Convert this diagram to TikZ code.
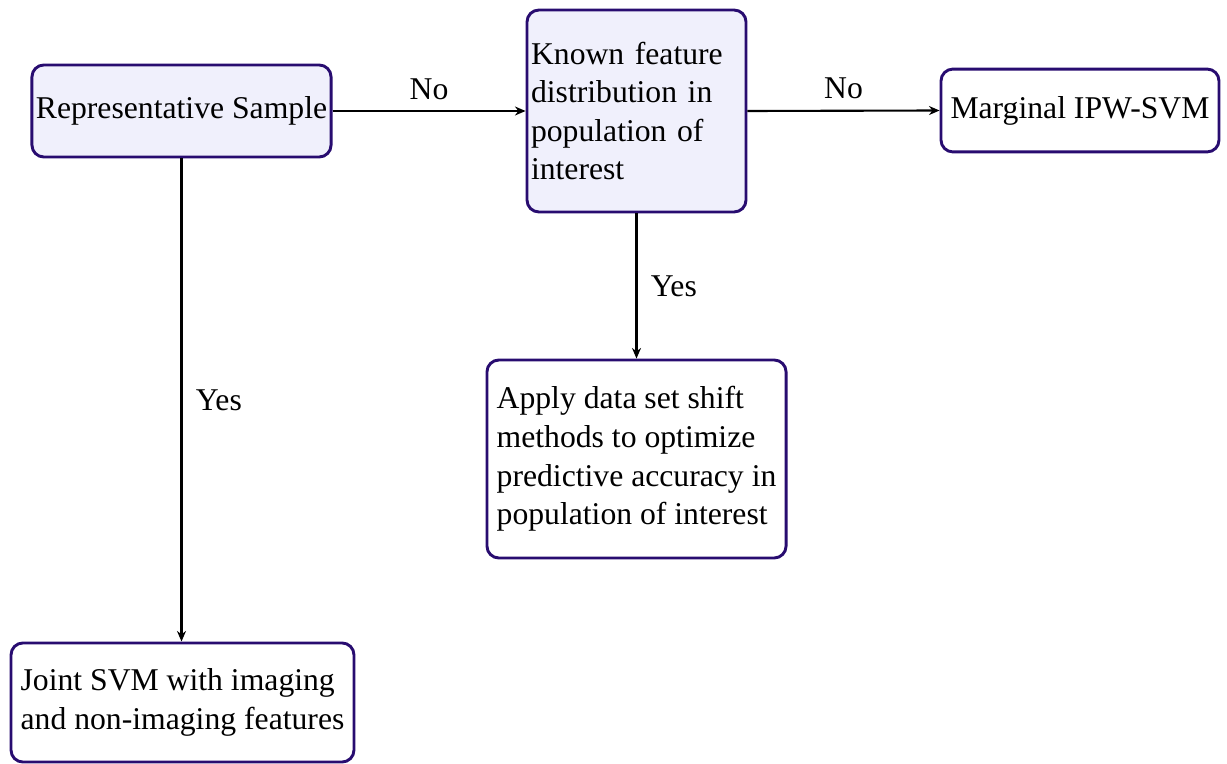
\documentclass[tikz,border=0pt]{standalone}
\usepackage{fontspec}
\setmainfont{Liberation Serif}
\usetikzlibrary{arrows.meta}

\definecolor{boxline}{RGB}{40,12,112}
\definecolor{boxfill}{RGB}{240,240,252}

\tikzset{
    flowbox/.style={draw=boxline, line width=1.1pt, rounded corners=4.5pt,
        inner sep=0pt, font=\fontsize{12}{14.6}\selectfont},
    askbox/.style={flowbox, fill=boxfill},
    endbox/.style={flowbox, fill=white},
    flowarrow/.style={draw=black, line width=0.8pt, -{Stealth[length=4pt,width=3.4pt]}},
    answer/.style={font=\fontsize{12}{14.6}\selectfont, inner sep=1pt}
}

\begin{document}
\begin{tikzpicture}[x=0.3788pt, y=-0.3788pt]
    \useasboundingbox (0,0) rectangle (1227,764);
    %% centres of the boxes, in pixels of the sketch
    \coordinate (Crep) at (181.5,111);
    \coordinate (Cknown) at (636.5,111);
    \coordinate (Cmarg) at (1080,110.5);
    \coordinate (Cshift) at (636.5,459);
    \coordinate (Cjoint) at (182.5,702.5);

    %% questions
    \node[askbox, minimum width=113.3pt, minimum height=34.85pt] (rep) at (Crep) {Representative Sample};
    \node[askbox, minimum width=82.96pt, minimum height=76.5pt, text width=79.9pt, align=left] (known) at (Cknown)
        {Known feature\\ distribution in\\ population of\\ interest};
    %% outcomes
    \node[endbox, minimum width=105.3pt, minimum height=31.4pt] (marg) at (Cmarg) {Marginal IPW-SVM};
    \node[endbox, minimum width=113.3pt, minimum height=75pt, align=left] (shift) at (Cshift)
        {Apply data set shift\\ methods to optimize\\ predictive accuracy in\\ population of interest};
    \node[endbox, minimum width=129.9pt, minimum height=45.1pt, align=left] (joint) at (Cjoint)
        {Joint SVM with imaging\\ and non-imaging features};

    \draw[flowarrow] (rep.east) -- node[answer, above=3pt] {No} (known.west);
    \draw[flowarrow] (known.east) -- node[answer, above=3pt] {No} (marg.west);
    \draw[flowarrow] (known.south) -- node[answer, right=4pt] {Yes} (shift.north);
    \draw[flowarrow] (rep.south) -- node[answer, right=4pt] {Yes} (rep.south |- joint.north);
\end{tikzpicture}
\end{document}
